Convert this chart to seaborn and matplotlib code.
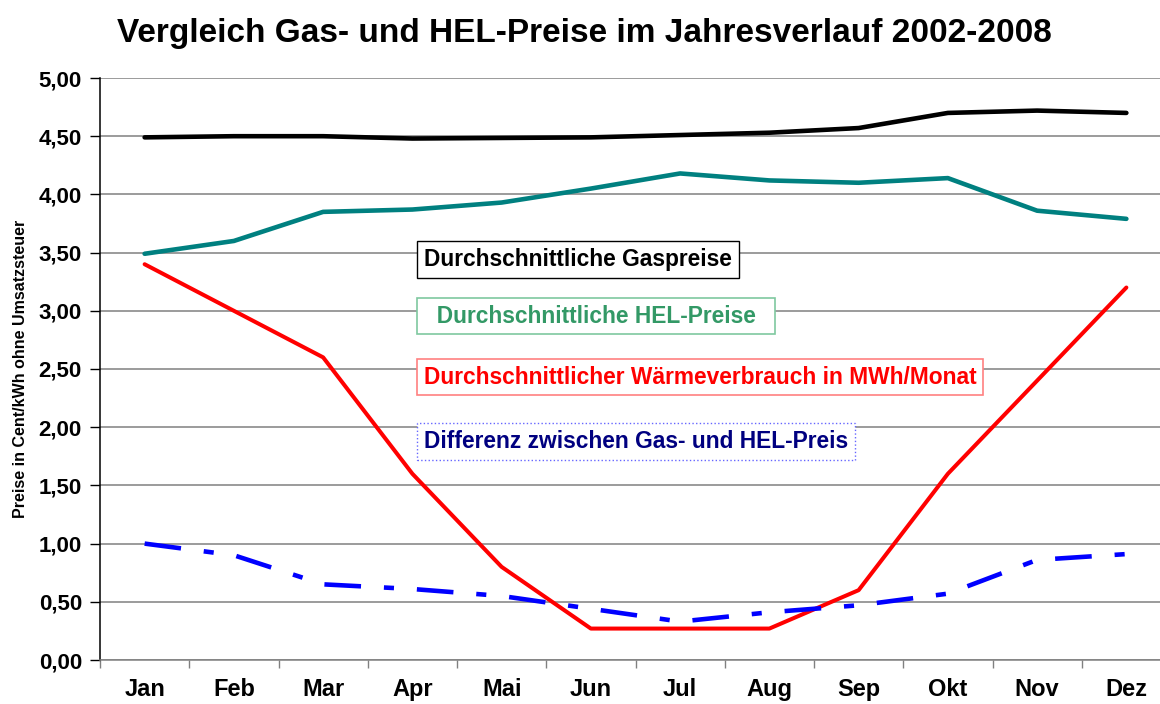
import matplotlib
matplotlib.use("Agg")
import matplotlib.pyplot as plt
import matplotlib.ticker as mticker
import seaborn as sns
import numpy as np
import pandas as pd

monate = ["Jan", "Feb", "Mar", "Apr", "Mai", "Jun",
          "Jul", "Aug", "Sep", "Okt", "Nov", "Dez"]
gaspreis = [4.49, 4.50, 4.50, 4.48, 4.485, 4.49, 4.51, 4.53, 4.57, 4.70, 4.72, 4.70]
hel_preis = [3.49, 3.60, 3.85, 3.87, 3.93, 4.05, 4.18, 4.12, 4.10, 4.14, 3.86, 3.79]
waerme = [3.40, 3.00, 2.60, 1.60, 0.80, 0.27, 0.27, 0.27, 0.60, 1.60, 2.40, 3.20]
differenz = [1.00, 0.90, 0.65, 0.61, 0.55, 0.44, 0.33, 0.41, 0.47, 0.57, 0.86, 0.91]

y_ticks = np.arange(0, 5.01, 0.5)

df = pd.DataFrame({"pos": np.arange(len(monate)), "monat": monate,
                   "gas": gaspreis, "hel": hel_preis,
                   "waerme": waerme, "diff": differenz})

sns.set_style("white")
plt.rcParams["font.family"] = ["Liberation Sans", "DejaVu Sans"]
plt.rcParams["text.color"] = "black"
plt.rcParams["axes.labelcolor"] = "black"
plt.rcParams["xtick.color"] = "black"
plt.rcParams["ytick.color"] = "black"

fig = plt.figure(figsize=(11.6, 7.04), dpi=100)
ax = fig.add_axes([100 / 1160, 1 - 660 / 704, 1071 / 1160, 582 / 704])

# Gitterlinien
for y in y_ticks:
    ax.axhline(y, color="#808080", linewidth=1.1, zorder=1)

sns.lineplot(data=df, x="pos", y="gas", ax=ax, color="black",
             linewidth=3.3, zorder=4, solid_capstyle="round")
sns.lineplot(data=df, x="pos", y="hel", ax=ax, color="#008080",
             linewidth=3.3, zorder=4, solid_capstyle="round")
sns.lineplot(data=df, x="pos", y="waerme", ax=ax, color="#FF0000",
             linewidth=2.9, zorder=3, solid_capstyle="round")
sns.lineplot(data=df, x="pos", y="diff", ax=ax, color="#0000FF",
             linewidth=3.3, zorder=3, linestyle=(0, (8, 5, 2.2, 5)))

ax.set_xlim(-0.5, len(monate) - 0.5)
ax.set_ylim(0, 5)

ax.set_xticks(df["pos"])
ax.set_xticklabels(monate, fontsize=17, fontweight="bold")
ax.set_xticks(np.arange(-0.5, len(monate), 1), minor=True)
ax.tick_params(axis="x", which="major", length=0, pad=13, bottom=True)
ax.tick_params(axis="x", which="minor", length=6, color="#808080", width=1,
               direction="out", bottom=True)

ax.set_yticks(y_ticks)
ax.yaxis.set_major_formatter(mticker.FuncFormatter(lambda v, p: f"{v:.2f}".replace(".", ",")))
for lbl in ax.get_yticklabels():
    lbl.set_fontweight("bold")
    lbl.set_fontsize(16)
ax.tick_params(axis="y", length=7, color="black", width=1, direction="out", left=True, pad=6)

ax.set_xlabel("")
ax.set_ylabel("Preise in Cent/kWh ohne Umsatzsteuer", fontsize=11.5, fontweight="bold", labelpad=8)

for side in ["top", "right"]:
    ax.spines[side].set_visible(False)
ax.spines["left"].set_color("black")
ax.spines["left"].set_linewidth(1.1)
ax.spines["bottom"].set_color("#808080")
ax.spines["bottom"].set_linewidth(1.1)

fig.suptitle("Vergleich Gas- und HEL-Preise im Jahresverlauf 2002-2008",
             fontsize=24, fontweight="bold", x=0.504, y=0.975, va="top")

# Beschriftungen der Linien
box_kw = dict(ha="left", va="center", fontsize=16.4, fontweight="bold", zorder=6)
ax.text(3.13, 3.44, "Durchschnittliche Gaspreise", color="black",
        bbox=dict(boxstyle="square,pad=0.3", fc="white", ec="black", lw=1), **box_kw)
ax.text(3.13, 2.955, "  Durchschnittliche HEL-Preise  ", color="#339966",
        bbox=dict(boxstyle="square,pad=0.3", fc="white", ec="#7fc8a0", lw=1.2), **box_kw)
ax.text(3.13, 2.43, "Durchschnittlicher Wärmeverbrauch in MWh/Monat", color="#FF0000",
        bbox=dict(boxstyle="square,pad=0.3", fc="white", ec="#FF8080", lw=1.2), **box_kw)
ax.text(3.13, 1.88, "Differenz zwischen Gas- und HEL-Preis", color="#000080",
        bbox=dict(boxstyle="square,pad=0.3", fc="white", ec="#6666FF", lw=1, ls=":"), **box_kw)

fig.savefig("out.png", dpi=100)
